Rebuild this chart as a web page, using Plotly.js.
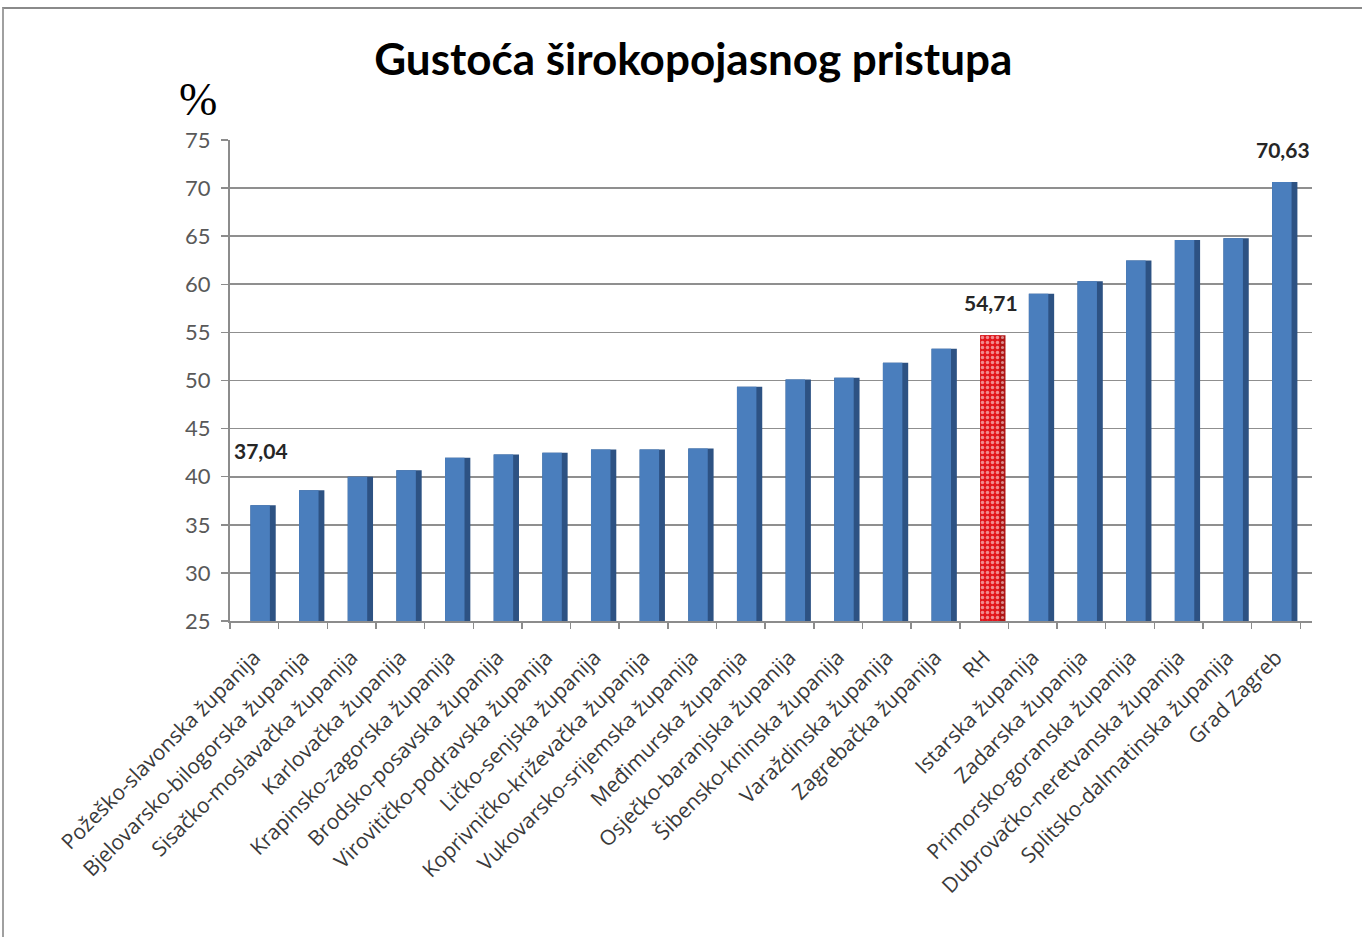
<!DOCTYPE html>
<html>
<head>
<meta charset="utf-8">
<script src="https://cdn.plot.ly/plotly-3.0.1.min.js"></script>
<style>
  html, body { margin: 0; padding: 0; background: #ffffff; }
  #frame { position: absolute; left: 2px; top: 7px; width: 1380px; height: 940px;
           border-top: 2px solid #8a8a8a; border-left: 2px solid #a0a0a0; box-sizing: border-box; }
  #chart { position: absolute; left: 0; top: 0; width: 1362px; height: 937px; }
</style>
</head>
<body>
<div id="frame"></div>
<div id="chart"></div>
<script>
// ---- data ----
const categories = [
  'Požeško-slavonska županija',
  'Bjelovarsko-bilogorska županija',
  'Sisačko-moslavačka županija',
  'Karlovačka županija',
  'Krapinsko-zagorska županija',
  'Brodsko-posavska županija',
  'Virovitičko-podravska županija',
  'Ličko-senjska županija',
  'Koprivničko-križevačka županija',
  'Vukovarsko-srijemska županija',
  'Međimurska županija',
  'Osječko-baranjska županija',
  'Šibensko-kninska županija',
  'Varaždinska županija',
  'Zagrebačka županija',
  'RH',
  'Istarska županija',
  'Zadarska županija',
  'Primorsko-goranska županija',
  'Dubrovačko-neretvanska županija',
  'Splitsko-dalmatinska županija',
  'Grad Zagreb'
];
const values = [37.04, 38.58, 40.00, 40.67, 41.98, 42.32, 42.49, 42.83, 42.83, 42.94,
                49.35, 50.10, 50.28, 51.85, 53.30, 54.71, 59.03, 60.32, 62.48, 64.61, 64.79, 70.63];
const highlightCategory = 'RH';
const labelledCategories = ['Požeško-slavonska županija', 'RH', 'Grad Zagreb'];
const chartTitle = 'Gustoća širokopojasnog pristupa';
const unitLabel = '%';

// ---- styling ----
const isHi = categories.map(c => c === highlightCategory);
const fmt = v => v.toFixed(2).replace('.', ',');

const sideTrace = {
  type: 'bar', x: categories, y: values,
  width: 0.52, offset: -0.08,
  marker: {
    color: isHi.map(h => h ? '#b01414' : '#2d5283'),
    line: { width: 0 },
    pattern: {
      shape: isHi.map(h => h ? '.' : ''),
      fillmode: 'overlay',
      fgcolor: '#f2d0d0', size: 5, solidity: 0.3
    }
  },
  hoverinfo: 'skip', showlegend: false
};
const frontTrace = {
  type: 'bar', x: categories, y: values,
  width: 0.40, offset: -0.08,
  marker: {
    color: isHi.map(h => h ? '#e3161c' : '#4a7ebd'),
    line: { width: 0 },
    pattern: {
      shape: isHi.map(h => h ? '.' : ''),
      fillmode: 'overlay',
      fgcolor: '#ffffff', size: 5, solidity: 0.38
    }
  },
  showlegend: false
};

const annotations = categories
  .map((c, i) => ({ c, i }))
  .filter(o => labelledCategories.includes(o.c))
  .map(o => ({
    x: o.c, y: values[o.i], xref: 'x', yref: 'y',
    text: '<b>' + fmt(values[o.i]) + '</b>',
    showarrow: false, yanchor: 'bottom', xanchor: 'center',
    xshift: 7, yshift: o.i === 0 ? 40 : 18,
    font: { family: 'Lato, "Open Sans", sans-serif', size: 21, color: '#262626' }
  }));

annotations.push({
  text: unitLabel, xref: 'paper', yref: 'paper', x: -0.03, y: 1.0, yshift: 41,
  xanchor: 'center', yanchor: 'middle', showarrow: false,
  font: { family: '"Liberation Serif", "DejaVu Serif", serif', size: 46, color: '#000000' }
});

const layout = {
  width: 1362, height: 937,
  margin: { l: 230, r: 50, t: 140, b: 316 },
  paper_bgcolor: 'rgba(0,0,0,0)',
  plot_bgcolor: 'rgba(0,0,0,0)',
  barmode: 'overlay',
  title: {
    text: '<b>' + chartTitle + '</b>',
    xref: 'container', yref: 'container', x: 0.509, y: 0.936,
    xanchor: 'center', yanchor: 'middle',
    font: { family: 'Lato, "Open Sans", sans-serif', size: 44, color: '#000000' }
  },
  xaxis: {
    type: 'category',
    tickangle: -45,
    tickson: 'boundaries',
    ticks: 'outside', ticklen: 6, tickcolor: '#8c8c8c', tickwidth: 1.5,
    ticklabelstandoff: 14,
    showline: true, linecolor: '#8c8c8c', linewidth: 2,
    showgrid: false,
    tickfont: { family: '"Open Sans", Lato, sans-serif', size: 21, color: '#3a3a3a' }
  },
  yaxis: {
    range: [25, 75], dtick: 5, tick0: 25,
    ticks: 'outside', ticklen: 7, tickcolor: '#8c8c8c', tickwidth: 1.5,
    ticklabelstandoff: 6,
    showline: true, linecolor: '#8c8c8c', linewidth: 2,
    showgrid: true, gridcolor: '#8f8f8f', gridwidth: 1.6,
    zeroline: false,
    tickfont: { family: 'Lato, "Open Sans", sans-serif', size: 22, color: '#595959' }
  },
  annotations: annotations
};

Plotly.newPlot('chart', [sideTrace, frontTrace], layout, { displayModeBar: false, staticPlot: true });
</script>
</body>
</html>
